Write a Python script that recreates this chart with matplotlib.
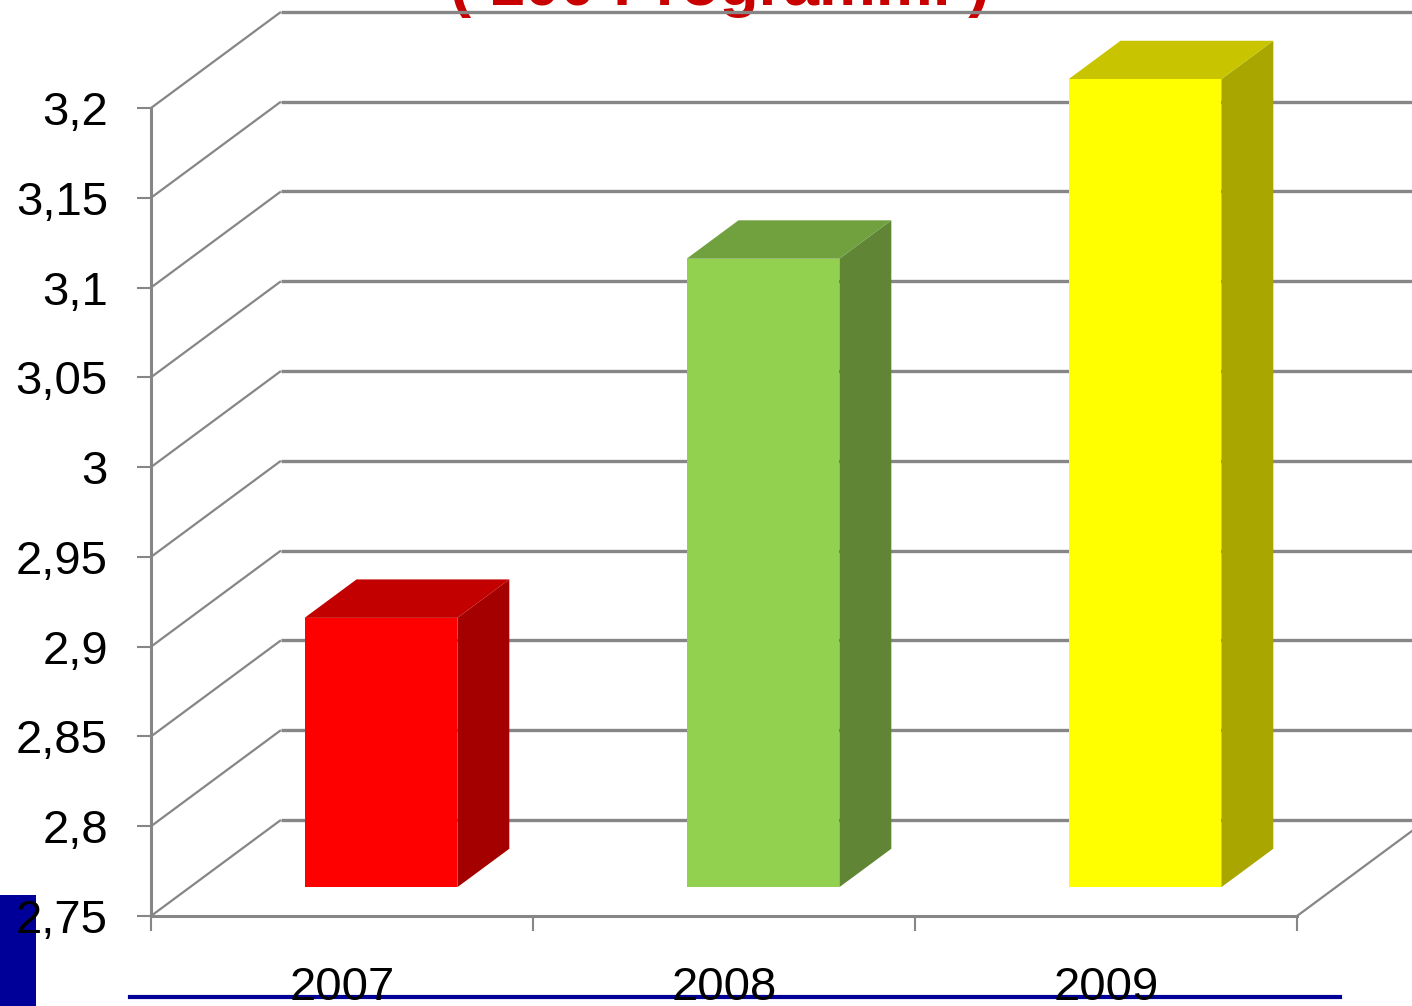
import numpy as np
import matplotlib.pyplot as plt
from matplotlib.patches import Polygon, Rectangle
from matplotlib.lines import Line2D

plt.rcParams['font.family'] = ['Liberation Sans', 'DejaVu Sans']

# data
years = ['2007', '2008', '2009']
values = [2.9, 3.1, 3.2]
ytick_values = [2.75, 2.8, 2.85, 2.9, 2.95, 3.0, 3.05, 3.1, 3.15, 3.2]
ytick_labels = ['2,75', '2,8', '2,85', '2,9', '2,95', '3', '3,05', '3,1', '3,15', '3,2']
title = '( 100 Programmi )'

front_colors = ['#FF0000', '#92D050', '#FFFF00']
top_colors = ['#C20000', '#71A03F', '#C8C400']
side_colors = ['#A50000', '#5F8535', '#A9A600']

grid_color = '#868686'

# depth of the 3d box in data units (x in categories, y in values)
DX = 0.34
DY = 0.0535
bar_w = 0.4
bar_front = 0.3   # depth where bar front face sits
bar_depth = 0.4

W, H = 1412, 1006
fig = plt.figure(figsize=(W / 100, H / 100), dpi=100)
ax = fig.add_axes([151 / W, 90 / H, 1146 / W, 808 / H])
ax.set_facecolor('none')
ax.set_xlim(0, len(years))
ax.set_ylim(ytick_values[0], ytick_values[-1])

for s in ['top', 'right']:
    ax.spines[s].set_visible(False)
for s in ['left', 'bottom']:
    ax.spines[s].set_color(grid_color)
    ax.spines[s].set_linewidth(2.2)
    ax.spines[s].set_zorder(4)

ax.set_yticks(ytick_values)
ax.set_yticklabels(ytick_labels)
ax.tick_params(axis='y', direction='out', length=10, width=1.5, color=grid_color,
               labelsize=34, pad=21)

ax.set_xticks(np.arange(len(years) + 1))
ax.set_xticklabels([])
ax.set_xticks(np.arange(len(years)) + 0.5, minor=True)
ax.set_xticklabels(years, minor=True)
ax.tick_params(axis='x', which='major', direction='out', length=11, width=1.5, color=grid_color)
ax.tick_params(axis='x', which='minor', length=0, labelsize=34, pad=36)

# walls: left diagonals + back horizontal gridlines
nx = len(years)
for v in ytick_values:
    ax.plot([0, DX], [v, v + DY], color=grid_color, lw=1.6, zorder=1, clip_on=False,
            solid_capstyle='butt')
    ax.plot([DX, nx + DX], [v + DY, v + DY], color=grid_color, lw=2.4, zorder=1, clip_on=False,
            solid_capstyle='butt')
# floor right edge
y0 = ytick_values[0]
ax.plot([nx, nx + DX], [y0, y0 + DY], color=grid_color, lw=1.6, zorder=1, clip_on=False)

# bars
for i, v in enumerate(values):
    x0 = i + 0.5 - bar_w / 2 + bar_front * DX
    x1 = x0 + bar_w
    yb = y0 + bar_front * DY
    yt = v + bar_front * DY
    ddx, ddy = bar_depth * DX, bar_depth * DY
    side = Polygon([(x1, yb), (x1 + ddx, yb + ddy), (x1 + ddx, yt + ddy), (x1, yt)],
                   closed=True, facecolor=side_colors[i], edgecolor='none', zorder=2, clip_on=False)
    top = Polygon([(x0, yt), (x1, yt), (x1 + ddx, yt + ddy), (x0 + ddx, yt + ddy)],
                  closed=True, facecolor=top_colors[i], edgecolor='none', zorder=2, clip_on=False)
    front = Rectangle((x0, yb), bar_w, yt - yb, facecolor=front_colors[i],
                      edgecolor='none', zorder=3, clip_on=False)
    ax.add_patch(side)
    ax.add_patch(top)
    ax.add_patch(front)

# title, cut off at the top of the slide
ax.text(0.51, 1 - 5 / H, title, transform=fig.transFigure, ha='center', va='baseline',
        fontsize=46, fontweight='bold', color='#C80000', zorder=0.5, clip_on=False)

# slide decorations
fig.patches.append(Rectangle((0, 0), 36 / W, 111 / H, transform=fig.transFigure,
                             facecolor='#000099', edgecolor='none', zorder=-1))
fig.lines.append(Line2D([130 / W, 1340 / W], [9 / H, 9 / H], transform=fig.transFigure,
                        color='#000099', lw=3, zorder=-1))

fig.savefig('out.png', dpi=100)
